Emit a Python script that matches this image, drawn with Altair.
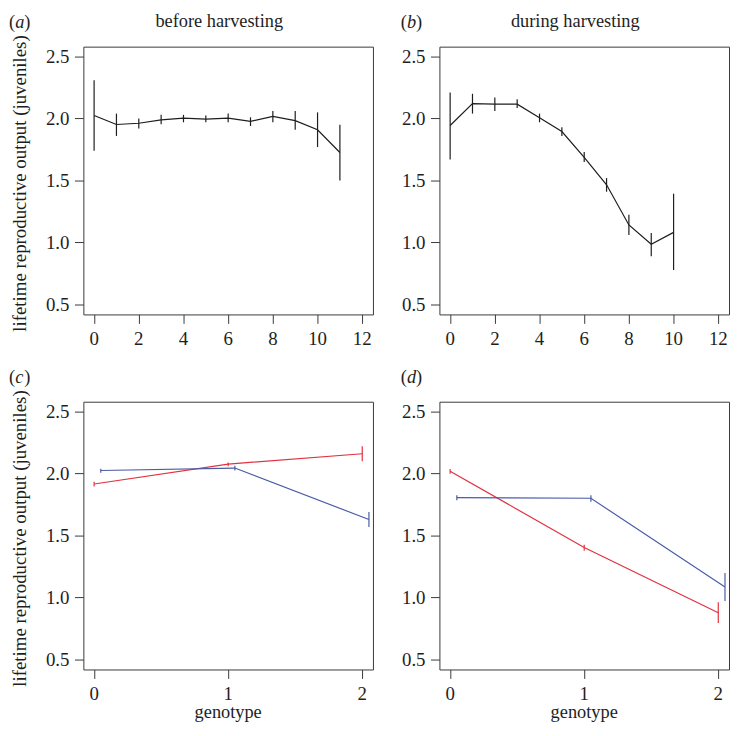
import altair as alt
import pandas as pd

# ---------------- data ----------------
a_x = [0, 1, 2, 3, 4, 5, 6, 7, 8, 9, 10, 11]
a_mean = [2.025, 1.952, 1.962, 1.990, 2.004, 1.996, 2.004, 1.978, 2.017, 1.983, 1.910, 1.726]
a_lo = [1.74, 1.86, 1.92, 1.955, 1.97, 1.97, 1.97, 1.94, 1.97, 1.91, 1.77, 1.50]
a_hi = [2.31, 2.04, 2.00, 2.03, 2.03, 2.025, 2.04, 2.01, 2.06, 2.06, 2.05, 1.95]

b_x = [0, 1, 2, 3, 4, 5, 6, 7, 8, 9, 10]
b_mean = [1.944, 2.120, 2.116, 2.116, 2.006, 1.895, 1.687, 1.466, 1.142, 0.986, 1.082]
b_lo = [1.67, 2.04, 2.06, 2.085, 1.97, 1.86, 1.65, 1.41, 1.06, 0.89, 0.778]
b_hi = [2.21, 2.20, 2.17, 2.155, 2.04, 1.93, 1.73, 1.52, 1.225, 1.077, 1.394]

series_names = ["group 1", "group 2"]
series_colors = ["#e0323f", "#4a5ca8"]

red_x = [0, 1, 2]
blue_x = [0.05, 1.05, 2.05]

c_red_mean = [1.916, 2.077, 2.160]
c_red_lo = [1.897, 2.060, 2.100]
c_red_hi = [1.934, 2.090, 2.220]
c_blue_mean = [2.025, 2.045, 1.630]
c_blue_lo = [2.006, 2.025, 1.570]
c_blue_hi = [2.040, 2.064, 1.690]

d_red_mean = [2.019, 1.404, 0.877]
d_red_lo = [1.999, 1.378, 0.794]
d_red_hi = [2.038, 1.427, 0.962]
d_blue_mean = [1.806, 1.801, 1.085]
d_blue_lo = [1.786, 1.773, 0.973]
d_blue_hi = [1.825, 1.825, 1.199]

panel_letters = ["a", "b", "c", "d"]
panel_titles = ["before harvesting", "during harvesting", "", ""]
y_title = "lifetime reproductive output (juveniles)"
x_title = "genotype"

y_ticks = [0.5, 1.0, 1.5, 2.0, 2.5]
x_ticks_top = [0, 2, 4, 6, 8, 10, 12]
x_ticks_bottom = [0, 1, 2]

# ---------------- styling ----------------
W, H = 292, 270
FONT = "Liberation Serif"
INK = "#1e1e1e"
TICK = "#3a3a3a"
FS_LABEL = 19
FS_TEXT = 18.5


def mk_df(x, m, lo, hi, s):
    return pd.DataFrame({"x": x, "m": m, "lo": lo, "hi": hi, "s": [s] * len(x)})


def text_layer(txt, x, y, size=FS_TEXT, style="normal", align="left", angle=0):
    return alt.Chart(pd.DataFrame({"t": [txt]})).mark_text(
        font=FONT, fontSize=size, fontStyle=style, align=align, angle=angle,
        baseline="alphabetic", color=INK
    ).encode(text="t:N", x=alt.value(x), y=alt.value(y))


def axis(values):
    return alt.Axis(values=values, labels=False, domain=False, grid=False,
                    tickSize=9, tickColor=TICK, tickWidth=1)


def panel(df, xdom, xticks, letter, title, show_ytitle, show_xtitle, colored, lx):
    xscale = alt.Scale(domain=xdom, nice=False, zero=False)
    yscale = alt.Scale(domain=[0.42, 2.58], nice=False, zero=False)
    xax = axis(xticks)
    yax = axis(y_ticks)
    xenc = alt.X("x:Q", scale=xscale, axis=xax, title=None)
    yenc = alt.Y("m:Q", scale=yscale, axis=yax, title=None)
    base = alt.Chart(df)
    if colored:
        col = alt.Color("s:N", scale=alt.Scale(domain=series_names, range=series_colors), legend=None)
        line = base.mark_line(strokeWidth=1.2).encode(x=xenc, y=yenc, color=col, detail="s:N", order="x:Q")
        bars = base.mark_rule(strokeWidth=1.2).encode(
            x=xenc, y=alt.Y("lo:Q", scale=yscale, axis=yax, title=None), y2="hi:Q", color=col)
    else:
        line = base.mark_line(strokeWidth=1.2, color=INK).encode(x=xenc, y=yenc, order="x:Q")
        bars = base.mark_rule(strokeWidth=1.2, color=INK).encode(
            x=xenc, y=alt.Y("lo:Q", scale=yscale, axis=yax, title=None), y2="hi:Q")

    # tick labels, drawn through the panel's own scales
    xlab = alt.Chart(pd.DataFrame({"v": xticks})).mark_text(
        font=FONT, fontSize=FS_LABEL, align="center", baseline="alphabetic", color=INK
    ).encode(x=alt.X("v:Q", scale=xscale, axis=xax, title=None),
             y=alt.value(H + 30.5), text=alt.Text("v:Q", format="d"))
    ylab = alt.Chart(pd.DataFrame({"v": y_ticks})).mark_text(
        font=FONT, fontSize=FS_LABEL, align="right", baseline="alphabetic", dy=6.5, color=INK
    ).encode(y=alt.Y("v:Q", scale=yscale, axis=yax, title=None),
             x=alt.value(-14), text=alt.Text("v:Q", format=".1f"))

    layers = [line, bars, xlab, ylab,
              text_layer("(", lx, -19),
              text_layer(letter, lx + 6.3, -19, style="italic"),
              text_layer(")", lx + 6.3 + 9.0, -19)]
    if title:
        layers.append(text_layer(title, 137, -20, align="center"))
    if show_ytitle:
        layers.append(text_layer(y_title, -58, H / 2 + 3, size=19, align="center", angle=270))
    if show_xtitle:
        layers.append(text_layer(x_title, W / 2, H + 49, size=FS_TEXT, align="center"))
    return alt.layer(*layers).properties(width=W, height=H)


df_a = mk_df(a_x, a_mean, a_lo, a_hi, "all")
df_b = mk_df(b_x, b_mean, b_lo, b_hi, "all")
df_c = pd.concat([mk_df(red_x, c_red_mean, c_red_lo, c_red_hi, series_names[0]),
                  mk_df(blue_x, c_blue_mean, c_blue_lo, c_blue_hi, series_names[1])])
df_d = pd.concat([mk_df(red_x, d_red_mean, d_red_lo, d_red_hi, series_names[0]),
                  mk_df(blue_x, d_blue_mean, d_blue_lo, d_blue_hi, series_names[1])])

top_dom = [-0.48, 12.48]
bot_dom = [-0.08, 2.08]

pa = panel(df_a, top_dom, x_ticks_top, panel_letters[0], panel_titles[0], True, False, False, -75)
pb = panel(df_b, top_dom, x_ticks_top, panel_letters[1], panel_titles[1], False, False, False, -39)
pc = panel(df_c, bot_dom, x_ticks_bottom, panel_letters[2], panel_titles[2], True, True, True, -75)
pd_ = panel(df_d, bot_dom, x_ticks_bottom, panel_letters[3], panel_titles[3], False, True, True, -39)

chart = alt.concat(pa, pb, pc, pd_, columns=2, spacing={"row": 88, "column": 67}, bounds="flush").properties(
    padding=0
).configure_view(
    stroke=TICK, strokeWidth=1
)

chart.save("out.html", embed_options={"renderer": "svg", "actions": False})
